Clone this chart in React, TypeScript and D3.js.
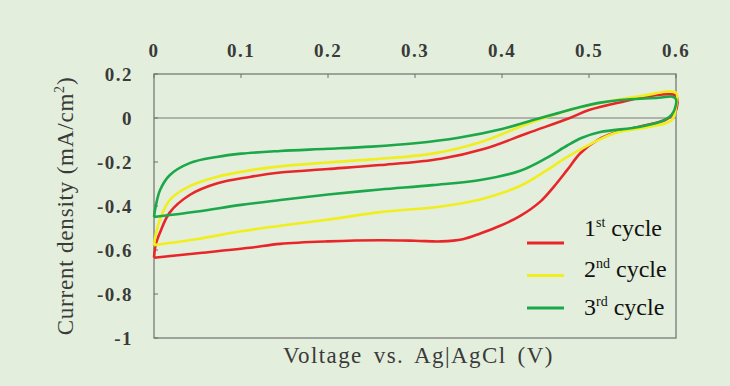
import React from "react";
import * as d3 from "d3";

const xTicks = [0, 0.1, 0.2, 0.3, 0.4, 0.5, 0.6];
const yTicks = [0.2, 0, -0.2, -0.4, -0.6, -0.8, -1];

const cycle1: [number, number][] = [
  [0, -0.635], [0.05, -0.615], [0.11, -0.59], [0.145, -0.572], [0.2, -0.561], [0.26, -0.556],
  [0.3, -0.558], [0.33, -0.561], [0.355, -0.551], [0.375, -0.525], [0.398, -0.49], [0.421, -0.445],
  [0.444, -0.38], [0.459, -0.315], [0.475, -0.236], [0.49, -0.16], [0.51, -0.1], [0.53, -0.066],
  [0.56, -0.038], [0.588, -0.008], [0.599, 0.025], [0.6, 0.1],
  [0.57, 0.1], [0.54, 0.075], [0.5, 0.036], [0.478, 0.0], [0.43, -0.068], [0.38, -0.14],
  [0.33, -0.185], [0.26, -0.214], [0.2, -0.232], [0.145, -0.248], [0.11, -0.268], [0.072, -0.298],
  [0.041, -0.35], [0.018, -0.43], [0.007, -0.52], [0.002, -0.575], [0, -0.635],
];

const cycle2: [number, number][] = [
  [0, -0.578], [0.05, -0.55], [0.1, -0.515], [0.145, -0.49], [0.2, -0.462], [0.26, -0.428],
  [0.33, -0.402], [0.375, -0.37], [0.42, -0.31], [0.452, -0.236], [0.475, -0.177], [0.5, -0.122],
  [0.53, -0.068], [0.57, -0.04], [0.595, -0.01], [0.6, 0.05], [0.6, 0.115],
  [0.56, 0.1], [0.513, 0.068], [0.478, 0.036], [0.432, -0.023], [0.375, -0.11], [0.32, -0.162],
  [0.25, -0.188], [0.2, -0.202], [0.145, -0.22], [0.11, -0.238], [0.072, -0.268], [0.041, -0.31],
  [0.018, -0.373], [0.007, -0.46], [0.002, -0.53], [0, -0.578],
];

const cycle3: [number, number][] = [
  [0, -0.45], [0.05, -0.425], [0.1, -0.395], [0.145, -0.373], [0.2, -0.348], [0.26, -0.325],
  [0.32, -0.305], [0.375, -0.282], [0.421, -0.24], [0.452, -0.18], [0.475, -0.125], [0.492, -0.09],
  [0.513, -0.064], [0.559, -0.04], [0.587, -0.009], [0.597, 0.027], [0.6, 0.085], [0.596, 0.097],
  [0.58, 0.092], [0.536, 0.082], [0.513, 0.07], [0.49, 0.05], [0.467, 0.025], [0.44, -0.005],
  [0.4, -0.05], [0.35, -0.09], [0.3, -0.115], [0.25, -0.13], [0.2, -0.14], [0.145, -0.15],
  [0.1, -0.162], [0.072, -0.177], [0.041, -0.205], [0.018, -0.26], [0.007, -0.327],
  [0.002, -0.4], [0, -0.45],
];

const seriesNames = ["1", "2", "3"];
const seriesSup = ["st", "nd", "rd"];
const seriesColors = ["#e8262a", "#f0ee1e", "#1ba74a"];
const seriesData = [cycle1, cycle2, cycle3];

export default function App() {
  const W = 730, H = 386;
  const left = 154, right = 676, top = 74, bottom = 338;
  const x = d3.scaleLinear().domain([0, 0.6]).range([left, right]);
  const y = d3.scaleLinear().domain([-1, 0.2]).range([bottom, top]);
  const line = d3
    .line<[number, number]>()
    .x((d) => x(d[0]))
    .y((d) => y(d[1]))
    .curve(d3.curveCatmullRom.alpha(0.5));

  const textColor = "#3a3a3a";
  const serif = { fontFamily: "Liberation Serif" };
  const legendY = [243, 275.5, 308];
  const legendBase = [236, 277, 315];

  return (
    <svg width={W} height={H} style={{ position: "absolute", left: 0, top: 0, display: "block" }}>
      <rect x={0} y={0} width={W} height={H} fill="#e3efdc" />
      <rect x={left} y={top} width={right - left} height={bottom - top} fill="none" stroke="#6f6f6f" strokeWidth={1.2} />
      <line x1={left} x2={right} y1={y(0)} y2={y(0)} stroke="#7a7a7a" strokeWidth={1.2} />
      {xTicks.map((t) => (
        <g key={"x" + t}>
          <line x1={x(t)} x2={x(t)} y1={top} y2={top + 4} stroke="#6f6f6f" />
          <text x={x(t)} y={57} textAnchor="middle" style={serif} fontSize={19} fontWeight="bold" fill={textColor} letterSpacing={1.5}>
            {t === 0 ? "0" : t.toFixed(1)}
          </text>
        </g>
      ))}
      {yTicks.map((t) => (
        <g key={"y" + t}>
          <line x1={left} x2={left + 4} y1={y(t)} y2={y(t)} stroke="#6f6f6f" />
          <text x={133} y={y(t) + 7} textAnchor="end" style={serif} fontSize={19} fontWeight="bold" fill={textColor} letterSpacing={1.5}>
            {t === 0 ? "0" : t === -1 ? "-1" : t.toFixed(1)}
          </text>
        </g>
      ))}
      {seriesData.map((d, i) => (
        <path key={"s" + i} d={line(d) || ""} fill="none" stroke={seriesColors[i]} strokeWidth={2.6} strokeLinejoin="round" />
      ))}
      {seriesNames.map((n, i) => (
        <g key={"l" + i}>
          <line x1={527} x2={564} y1={legendY[i]} y2={legendY[i]} stroke={seriesColors[i]} strokeWidth={2.8} />
          <text x={584} y={legendBase[i]} style={serif} fontSize={24} fill="#111">
            {n}
            <tspan fontSize={14} dy={-9}>{seriesSup[i]}</tspan>
            <tspan dy={9}>{" cycle"}</tspan>
          </text>
        </g>
      ))}
      <text x={283} y={363} style={{ ...serif, wordSpacing: "4px" }} fontSize={23} fill={textColor} letterSpacing={1.4}>
        Voltage vs. Ag|AgCl (V)
      </text>
      <text transform={`translate(73, 206) rotate(-90)`} textAnchor="middle" style={serif} fontSize={23} fill={textColor} letterSpacing={0.8}>
        Current density (mA/cm<tspan fontSize={14} dy={-9}>2</tspan><tspan dy={9}>)</tspan>
      </text>
    </svg>
  );
}
